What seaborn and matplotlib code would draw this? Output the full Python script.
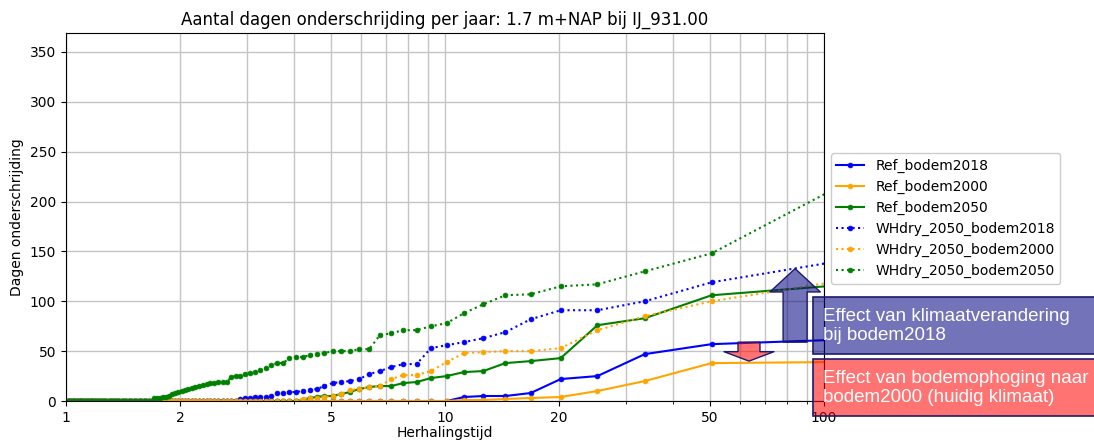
import numpy as np
import pandas as pd
import matplotlib
matplotlib.use("Agg")
import matplotlib.pyplot as plt
from matplotlib.patches import Rectangle
from matplotlib.ticker import FixedLocator, NullFormatter, LogLocator
import seaborn as sns

# Number of days per year below 1.7 m+NAP, sorted from largest to smallest
# (rank 1 = wettest year of the 100-year simulation).
ref_bodem2018 = [
    61, 57, 47, 25, 22, 8, 5, 5, 4, 0,
    0, 0, 0, 0, 0, 0, 0, 0, 0, 0,
    0, 0, 0, 0, 0, 0, 0, 0, 0, 0,
    0, 0, 0, 0, 0, 0, 0, 0, 0, 0,
    0, 0, 0, 0, 0, 0, 0, 0, 0, 0,
    0, 0, 0, 0, 0, 0, 0, 0, 0, 0,
    0, 0, 0, 0, 0, 0, 0, 0, 0, 0,
    0, 0, 0, 0, 0, 0, 0, 0, 0, 0,
    0, 0, 0, 0, 0, 0, 0, 0, 0, 0,
    0, 0, 0, 0, 0, 0, 0, 0, 0, 0,
]
ref_bodem2000 = [
    39, 38, 20, 10, 4, 3, 2, 1, 1, 0,
    0, 0, 0, 0, 0, 0, 0, 0, 0, 0,
    0, 0, 0, 0, 0, 0, 0, 0, 0, 0,
    0, 0, 0, 0, 0, 0, 0, 0, 0, 0,
    0, 0, 0, 0, 0, 0, 0, 0, 0, 0,
    0, 0, 0, 0, 0, 0, 0, 0, 0, 0,
    0, 0, 0, 0, 0, 0, 0, 0, 0, 0,
    0, 0, 0, 0, 0, 0, 0, 0, 0, 0,
    0, 0, 0, 0, 0, 0, 0, 0, 0, 0,
    0, 0, 0, 0, 0, 0, 0, 0, 0, 0,
]
ref_bodem2050 = [
    115, 106, 83, 76, 43, 40, 38, 30, 29, 25,
    23, 19, 18, 15, 15, 14, 12, 9, 7, 5,
    5, 4, 3, 1, 0, 0, 0, 0, 0, 0,
    0, 0, 0, 0, 0, 0, 0, 0, 0, 0,
    0, 0, 0, 0, 0, 0, 0, 0, 0, 0,
    0, 0, 0, 0, 0, 0, 0, 0, 0, 0,
    0, 0, 0, 0, 0, 0, 0, 0, 0, 0,
    0, 0, 0, 0, 0, 0, 0, 0, 0, 0,
    0, 0, 0, 0, 0, 0, 0, 0, 0, 0,
    0, 0, 0, 0, 0, 0, 0, 0, 0, 0,
]
whdry_bodem2018 = [
    138, 119, 100, 91, 91, 82, 69, 63, 59, 56,
    53, 37, 37, 34, 30, 27, 22, 20, 19, 18,
    15, 12, 11, 10, 9, 9, 8, 8, 5, 4,
    4, 4, 3, 3, 2, 0, 0, 0, 0, 0,
    0, 0, 0, 0, 0, 0, 0, 0, 0, 0,
    0, 0, 0, 0, 0, 0, 0, 0, 0, 0,
    0, 0, 0, 0, 0, 0, 0, 0, 0, 0,
    0, 0, 0, 0, 0, 0, 0, 0, 0, 0,
    0, 0, 0, 0, 0, 0, 0, 0, 0, 0,
    0, 0, 0, 0, 0, 0, 0, 0, 0, 0,
]
whdry_bodem2000 = [
    118, 100, 85, 71, 53, 50, 50, 49, 48, 39,
    30, 26, 26, 22, 15, 14, 12, 11, 7, 5,
    4, 3, 3, 2, 0, 0, 0, 0, 0, 0,
    0, 0, 0, 0, 0, 0, 0, 0, 0, 0,
    0, 0, 0, 0, 0, 0, 0, 0, 0, 0,
    0, 0, 0, 0, 0, 0, 0, 0, 0, 0,
    0, 0, 0, 0, 0, 0, 0, 0, 0, 0,
    0, 0, 0, 0, 0, 0, 0, 0, 0, 0,
    0, 0, 0, 0, 0, 0, 0, 0, 0, 0,
    0, 0, 0, 0, 0, 0, 0, 0, 0, 0,
]
whdry_bodem2050 = [
    208, 148, 130, 117, 115, 107, 106, 97, 88, 78,
    75, 71, 71, 68, 66, 52, 52, 50, 50, 50,
    48, 47, 46, 44, 44, 43, 38, 38, 36, 33,
    31, 29, 28, 27, 25, 25, 24, 19, 19, 19,
    18, 18, 17, 16, 15, 14, 13, 12, 11, 10,
    9, 8, 7, 5, 4, 4, 3, 3, 3, 0,
    0, 0, 0, 0, 0, 0, 0, 0, 0, 0,
    0, 0, 0, 0, 0, 0, 0, 0, 0, 0,
    0, 0, 0, 0, 0, 0, 0, 0, 0, 0,
    0, 0, 0, 0, 0, 0, 0, 0, 0, 0,
]

series_names = ["Ref_bodem2018", "Ref_bodem2000", "Ref_bodem2050",
                "WHdry_2050_bodem2018", "WHdry_2050_bodem2000", "WHdry_2050_bodem2050"]
series_values = [ref_bodem2018, ref_bodem2000, ref_bodem2050,
                 whdry_bodem2018, whdry_bodem2000, whdry_bodem2050]
series_colors = ["blue", "orange", "green", "blue", "orange", "green"]
series_styles = ["-", "-", "-", ":", ":", ":"]

x_ticks = [1, 2, 5, 10, 20, 50, 100]
x_ticklabels = ["1", "2", "5", "10", "20", "50", "100"]
y_ticks = [0, 50, 100, 150, 200, 250, 300, 350]

# Return period (Weibull plotting position) for a 100-year record
n_years = len(ref_bodem2018)
rank = np.arange(1, n_years + 1)
herhalingstijd = (n_years + 1) / rank

fig = plt.figure(figsize=(10.94, 4.41), dpi=100)
ax = fig.add_axes([0.0603, 0.0907, 0.6929, 0.8345])

for name, vals, col, ls in zip(series_names, series_values, series_colors, series_styles):
    df = pd.DataFrame({"Herhalingstijd": herhalingstijd, "Dagen": vals})
    sns.lineplot(data=df, x="Herhalingstijd", y="Dagen", ax=ax, color=col,
                 linestyle=ls, linewidth=1.5, marker=".", markersize=7,
                 markeredgecolor=col, markeredgewidth=0.5, estimator=None,
                 label=name)

ax.set_xscale("log")
ax.set_xlim(1, 100)
ax.set_ylim(0, 369)
ax.xaxis.set_major_locator(FixedLocator(x_ticks))
ax.set_xticklabels(x_ticklabels)
ax.xaxis.set_minor_locator(LogLocator(base=10, subs=np.arange(2, 10)))
ax.xaxis.set_minor_formatter(NullFormatter())
ax.set_yticks(y_ticks)
ax.tick_params(labelsize=10)
ax.grid(True, which="both", color="#c4c4c4", linewidth=1.0)
ax.set_axisbelow(True)

ax.set_title("Aantal dagen onderschrijding per jaar: 1.7 m+NAP bij IJ_931.00", fontsize=12)
ax.set_xlabel("Herhalingstijd", fontsize=10, labelpad=1)
ax.set_ylabel("Dagen onderschrijding", fontsize=10)

ax.legend(loc="upper left", bbox_to_anchor=(1.009, 0.674), borderaxespad=0,
          fontsize=10, framealpha=1)

# Arrows marking the two effects
blue_fc = (0.0, 0.0, 0.5, 0.55)
red_fc = (1.0, 0.0, 0.0, 0.55)
edge = "#1b1b6b"
ax.annotate("", xy=(83.9, 132.7), xytext=(83.9, 59),
            arrowprops=dict(arrowstyle="simple,head_length=0.97,head_width=2.1,tail_width=1.0",
                            mutation_scale=17.3, fc=blue_fc, ec=edge, lw=1.0,
                            shrinkA=0, shrinkB=0))
ax.annotate("", xy=(63.4, 40), xytext=(63.4, 59),
            arrowprops=dict(arrowstyle="simple,head_length=0.43,head_width=2.28,tail_width=1.0",
                            mutation_scale=15.8, fc=red_fc, ec=edge, lw=1.0,
                            shrinkA=0, shrinkB=0))

# Explanatory boxes next to the axes
W, H = 1094, 441
fig.add_artist(Rectangle((813 / W, (H - 354) / H), 300 / W, 57 / H,
                         transform=fig.transFigure, fc=blue_fc, ec=edge, lw=1.2))
fig.add_artist(Rectangle((813 / W, (H - 416) / H), 300 / W, 57 / H,
                         transform=fig.transFigure, fc=red_fc, ec=edge, lw=1.2))
fig.text(823 / W, (H - 326) / H, "Effect van klimaatverandering\nbij bodem2018",
         color="white", fontsize=13.5, family="Liberation Sans", va="center", ha="left",
         linespacing=1.2)
fig.text(823 / W, (H - 388) / H, "Effect van bodemophoging naar\nbodem2000 (huidig klimaat)",
         color="white", fontsize=13.5, family="Liberation Sans", va="center", ha="left",
         linespacing=1.2)

fig.savefig("out.png", dpi=100)
